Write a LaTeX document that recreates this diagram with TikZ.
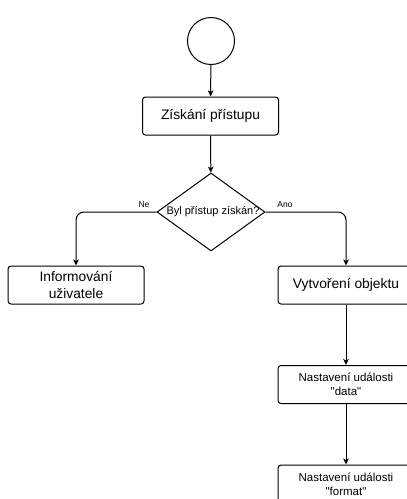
\documentclass[tikz,border=0pt]{standalone}
\usepackage{fontspec}
\setmainfont{Liberation Sans}
\usetikzlibrary{shapes.geometric,arrows.meta}
\begin{document}
\begin{tikzpicture}[x=1pt,y=-1pt,
  line width=1pt,
  proc/.style={draw, rounded corners=3pt, minimum width=136pt, minimum height=38pt,
    inner sep=2pt, align=center},
  bigtext/.style={font=\fontsize{13.8}{17}\selectfont},
  smalltext/.style={font=\fontsize{11.5}{14}\selectfont},
  flow/.style={-{Stealth[length=6pt,width=5.5pt,inset=1.5pt]}},
  branchlabel/.style={font=\fontsize{8.5}{10}\selectfont, inner sep=0pt}]
  \useasboundingbox (0,0) rectangle (407,499);
  \clip (0,0) rectangle (407,499);

  % start state
  \node (start) [draw, circle, minimum size=47pt, inner sep=0pt] at (211,41) {};

  % access step
  \node (access) [proc, bigtext] at (210.5,116) {Získání přístupu};

  % decision
  \node (check) [draw, diamond, minimum width=108pt, minimum height=78pt, inner sep=0pt] at (211,212) {};
  \node (checktext) [font=\fontsize{11}{13}\selectfont, inner sep=0pt] at (213,212) {Byl přístup získán?};

  % outcomes
  \node (inform) [proc, bigtext] at (76,285) {Informování\\uživatele};
  \node (create) [proc, bigtext] at (346,285) {Vytvoření objektu};
  \node (evdata) [proc, smalltext] at (346,384.5) {Nastavení události\\\textquotedbl data\textquotedbl};
  \node (evformat) [proc, smalltext] at (346,484) {Nastavení události\\\textquotedbl format\textquotedbl};

  % connectors
  \draw[flow] (start) -- (access);
  \draw[flow] (access) -- (check);
  \draw[flow, rounded corners=8pt] (check.west) -| (inform.north);
  \draw[flow, rounded corners=8pt] (check.east) -| (create.north);
  \draw[flow] (create) -- (evdata);
  \draw[flow] (evdata) -- (evformat);

  % branch labels
  \node (no) [branchlabel] at (144,205) {Ne};
  \node (yes) [branchlabel] at (285,205) {Ano};
\end{tikzpicture}
\end{document}
